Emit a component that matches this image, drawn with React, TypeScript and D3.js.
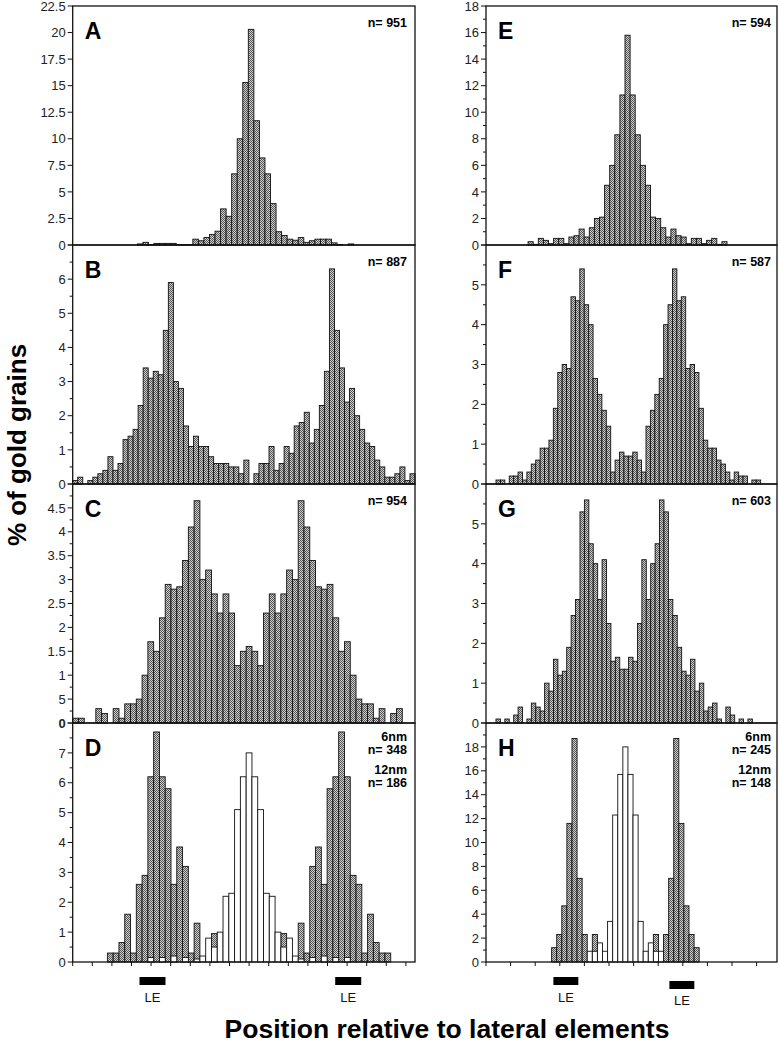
import React from "react";
import * as d3 from "d3";

const FONT = "'Liberation Sans', Arial, Helvetica, sans-serif";

// ---------------- data (% of gold grains per bin, left to right) ----------------
const valuesA = [0.1, 0.25, 0.05, 0.15, 0.15, 0.15, 0.15, 0.05, 0.05, 0.05, 0.55, 0.4, 0.7, 1.0, 1.3, 3.4, 2.7, 6.7, 10.0, 15.3, 20.3, 11.7, 8.2, 6.7, 3.9, 1.25, 0.9, 0.55, 0.45, 0.7, 0.25, 0.4, 0.55, 0.55, 0.55, 0.2, 0.05, 0, 0.1];

const valuesB = [0.1, 0.2, 0, 0.1, 0.2, 0.3, 0.4, 0.8, 0.4, 0.6, 1.3, 1.4, 1.6, 2.3, 3.4, 3.1, 3.3, 3.2, 4.5, 5.9, 3.0, 2.8, 1.7, 1.1, 1.4, 1.1, 1.1, 0.8, 0.6, 0.6, 0.6, 0.5, 0.5, 0.3, 0.7, 0, 0.3, 0.6, 0.6, 1.1, 0.4, 0.6, 1.1, 0.9, 1.7, 1.8, 2.1, 1.2, 1.6, 2.3, 3.3, 6.3, 4.5, 3.4, 2.4, 2.8, 2.0, 1.6, 1.2, 1.1, 0.7, 0.5, 0.2, 0.2, 0.3, 0.5, 0.1, 0.3];

const valuesC = [0.1, 0.1, 0, 0, 0.3, 0.2, 0, 0.3, 0.1, 0.4, 0.4, 0.5, 1.0, 1.7, 1.5, 2.2, 2.9, 2.8, 2.85, 3.4, 4.1, 4.65, 3.0, 3.2, 2.7, 2.3, 2.7, 2.3, 1.2, 1.5, 1.6, 1.5, 1.2, 2.3, 2.7, 2.3, 2.7, 3.2, 3.0, 4.65, 4.1, 3.4, 2.85, 2.8, 2.9, 2.2, 1.5, 1.7, 1.0, 0.5, 0.4, 0.4, 0.1, 0.3, 0, 0.2, 0.3];

const grayDStart = 6;
const grayD = [0.3, 0.3, 0.65, 1.6, 0.3, 2.6, 2.9, 6.2, 7.7, 6.2, 5.8, 2.6, 3.85, 3.2, 0.3, 1.3, 0, 0, 0.95, 0, 0, 0, 0, 0, 0, 0, 0, 0, 0, 0, 0.95, 0, 0, 1.3, 0.3, 3.2, 3.85, 2.6, 5.8, 6.2, 7.7, 6.2, 2.9, 2.6, 0.3, 1.6, 0.65, 0.3, 0.3];
const whiteDStart = 13;
const whiteD = [0.15, 0, 0.15, 0, 0.2, 0, 0.15, 0, 0.1, 0.2, 0.8, 0.5, 1.0, 2.2, 2.3, 5.1, 6.2, 7.0, 6.2, 5.1, 2.3, 2.2, 1.0, 0.5, 0.8, 0.2, 0.1, 0, 0.15, 0, 0.2, 0, 0.15, 0, 0.15];

const valuesE = [0.25, 0.05, 0.5, 0.35, 0.1, 0.5, 0.5, 0.1, 0.6, 0.7, 1.2, 0.6, 1.3, 2.0, 2.1, 4.5, 6.0, 8.3, 11.3, 15.8, 11.3, 8.3, 6.0, 4.5, 2.1, 2.0, 1.3, 0.6, 1.2, 0.7, 0.6, 0.1, 0.5, 0.5, 0.1, 0.35, 0.5, 0.05, 0.25];

const valuesF = [0.1, 0.1, 0, 0.2, 0.2, 0.3, 0.1, 0.3, 0.5, 0.6, 0.9, 0.9, 1.1, 1.9, 2.8, 3.0, 2.9, 4.7, 4.6, 5.4, 4.5, 4.0, 2.65, 2.25, 1.85, 1.45, 0.3, 0.6, 0.8, 0.7, 0.7, 0.8, 0.6, 0.3, 1.45, 1.85, 2.25, 2.65, 4.0, 4.5, 5.4, 4.6, 4.7, 2.9, 3.0, 2.8, 1.9, 1.1, 0.9, 0.9, 0.6, 0.5, 0.3, 0.1, 0.3, 0.2, 0.2, 0, 0.1, 0.1];

const valuesG = [0.1, 0, 0.1, 0, 0.2, 0.4, 0, 0.1, 0.5, 0.4, 0.3, 1.0, 0.8, 1.6, 1.2, 1.3, 1.9, 2.7, 3.1, 5.3, 5.6, 4.5, 4.0, 3.1, 4.1, 2.5, 1.55, 1.65, 1.35, 1.35, 1.65, 1.55, 2.5, 4.1, 3.1, 4.0, 4.5, 5.6, 5.3, 3.1, 2.7, 1.9, 1.3, 1.2, 1.6, 0.8, 1.0, 0.3, 0.4, 0.5, 0.1, 0, 0.4, 0.2, 0, 0.1, 0, 0.1];

const grayH = [1.2, 2.3, 4.7, 11.6, 18.7, 7.0, 2.3, 0, 2.3, 0, 0, 0, 0, 0, 0, 0, 0, 0, 0, 0, 2.3, 0, 2.3, 7.0, 18.7, 11.6, 4.7, 2.3, 1.2];
const whiteH = [0, 0, 0, 0, 0, 0, 0, 0.9, 0.9, 1.6, 0.9, 3.4, 12.3, 15.7, 18.0, 15.7, 12.3, 3.4, 0.9, 1.6, 0.9, 0.9, 0, 0, 0, 0, 0, 0, 0];

const countLabels = {
  A: ["n= 951"],
  B: ["n= 887"],
  C: ["n= 954"],
  D: ["6nm", "n= 348", "12nm", "n= 186"],
  E: ["n= 594"],
  F: ["n= 587"],
  G: ["n= 603"],
  H: ["6nm", "n= 245", "12nm", "n= 148"],
};

const yTitle = "% of gold grains";
const xTitle = "Position relative to lateral elements";
const leLabel = "LE";

// ---------------- layout ----------------
const COLS = [
  { x0: 72.7, x1: 415, tickStep: 19.6 },
  { x0: 486, x1: 777, tickStep: 24.6 },
];
const ROWS = [
  { y0: 6, y1: 245 },
  { y0: 245, y1: 484 },
  { y0: 484, y1: 723 },
  { y0: 723, y1: 962 },
];

type Panel = {
  letter: string;
  col: number;
  row: number;
  yMax: number;
  yMajor: number;
  yMinor: number | null;
  topLabel: boolean;
  xDomain: [number, number];
  gray: number[];
  grayStart: number;
  white?: number[];
  whiteStart?: number;
  fmt: (v: number) => string;
  boldZero?: boolean;
};

const fmtNum = (v: number) => String(+v.toFixed(2));
const fmtC = (v: number) => (Math.abs(v - 0.5) < 1e-9 ? "5" : fmtNum(v));

const panels: Panel[] = [
  { letter: "A", col: 0, row: 0, yMax: 22.5, yMajor: 2.5, yMinor: null, topLabel: true, xDomain: [-11.65, 50.04], gray: valuesA, grayStart: 0, fmt: fmtNum },
  { letter: "B", col: 0, row: 1, yMax: 7, yMajor: 1, yMinor: 0.5, topLabel: false, xDomain: [0, 68], gray: valuesB, grayStart: 0, fmt: fmtNum },
  { letter: "C", col: 0, row: 2, yMax: 5, yMajor: 0.5, yMinor: 0.25, topLabel: false, xDomain: [0, 59.2], gray: valuesC, grayStart: 0, fmt: fmtC, boldZero: true },
  { letter: "D", col: 0, row: 3, yMax: 8, yMajor: 1, yMinor: 0.5, topLabel: false, xDomain: [0, 59.2], gray: grayD, grayStart: grayDStart, white: whiteD, whiteStart: whiteDStart, fmt: fmtNum },
  { letter: "E", col: 1, row: 0, yMax: 18, yMajor: 2, yMinor: 1, topLabel: true, xDomain: [-8.25, 48.8], gray: valuesE, grayStart: 0, fmt: fmtNum },
  { letter: "F", col: 1, row: 1, yMax: 6, yMajor: 1, yMinor: 0.5, topLabel: false, xDomain: [-2.27, 63.7], gray: valuesF, grayStart: 0, fmt: fmtNum },
  { letter: "G", col: 1, row: 2, yMax: 6, yMajor: 1, yMinor: 0.5, topLabel: false, xDomain: [-2.26, 63.57], gray: valuesG, grayStart: 0, fmt: fmtNum },
  { letter: "H", col: 1, row: 3, yMax: 20, yMajor: 2, yMinor: 1, topLabel: false, xDomain: [-12.9, 44.3], gray: grayH, grayStart: 0, white: whiteH, whiteStart: 0, fmt: fmtNum },
];

// LE marker centers (in bin units of the bottom panel of each column)
const leMarks = [
  { col: 0, center: 13.8, width: 4.5, y: 977, textY: 1002 },
  { col: 0, center: 47.65, width: 4.5, y: 977, textY: 1002 },
  { col: 1, center: 2.8, width: 4.9, y: 977, textY: 1002 },
  { col: 1, center: 25.6, width: 4.9, y: 981, textY: 1005 },
];

function PanelView({ p }: { p: Panel }) {
  const col = COLS[p.col];
  const row = ROWS[p.row];
  const xs = d3.scaleLinear().domain(p.xDomain).range([col.x0, col.x1]);
  const ys = d3.scaleLinear().domain([0, p.yMax]).range([row.y1, row.y0]);
  const majors = d3.range(0, p.yMax + 1e-9, p.yMajor);
  const minors = p.yMinor
    ? d3.range(0, p.yMax + 1e-9, p.yMinor).filter((v) => Math.abs(v / p.yMajor - Math.round(v / p.yMajor)) > 1e-6)
    : [];
  const bar = (v: number, idx: number, fill: string, key: string) =>
    v > 0 ? (
      <rect
        key={key}
        x={xs(idx)}
        y={ys(v)}
        width={xs(idx + 1) - xs(idx)}
        height={ys(0) - ys(v)}
        fill={fill}
        stroke="#111"
        strokeWidth={0.9}
      />
    ) : null;
  const labels = countLabels[p.letter as keyof typeof countLabels];
  const twoSeries = labels.length > 2;
  const labelYs = twoSeries ? [18, 30.5, 51, 63.7] : [21];
  const rightPad = p.col === 0 ? 8 : 6;
  return (
    <g>
      {p.gray.map((v, i) => bar(v, p.grayStart + i, "url(#hatch)", "g" + i))}
      {p.white && p.white.map((v, i) => bar(v, (p.whiteStart || 0) + i, "#fff", "w" + i))}
      <rect x={col.x0} y={row.y0} width={col.x1 - col.x0} height={row.y1 - row.y0} fill="none" stroke="#111" strokeWidth={1.3} />
      {majors.map((v) => (
        <g key={"M" + v}>
          <line x1={col.x0 - 5} x2={col.x0} y1={ys(v)} y2={ys(v)} stroke="#111" strokeWidth={1} />
          {(v < p.yMax - 1e-9 || p.topLabel) && (
            <text
              x={col.x0 - 7}
              y={ys(v)}
              dy="0.36em"
              textAnchor="end"
              fontSize={13}
              fill="#222"
              fontWeight={p.boldZero && v === 0 ? "bold" : "normal"}
            >
              {p.fmt(v)}
            </text>
          )}
        </g>
      ))}
      {minors.map((v) => (
        <line key={"m" + v} x1={col.x0 - 3} x2={col.x0} y1={ys(v)} y2={ys(v)} stroke="#111" strokeWidth={1} />
      ))}
      <text x={col.x0 + 12} y={row.y0 + 33} fontSize={23} fontWeight="bold" fill="#000">
        {p.letter}
      </text>
      {labels.map((t, i) => (
        <text key={t + i} x={col.x1 - rightPad} y={row.y0 + labelYs[i]} textAnchor="end" fontSize={12.5} fontWeight="bold" fill="#000">
          {t}
        </text>
      ))}
    </g>
  );
}

export default function App() {
  const bottomPanels = [panels[3], panels[7]];
  return (
    <svg
      width={780}
      height={1043}
      viewBox="0 0 780 1043"
      style={{ position: "absolute", left: 0, top: 0, background: "#fff" }}
      fontFamily={FONT}
    >
      <defs>
        <pattern id="hatch" width="2" height="2" patternUnits="userSpaceOnUse">
          <rect width="2" height="2" fill="#cfcfcf" />
          <rect width="1" height="1" fill="#555" />
          <rect x="1" y="1" width="1" height="1" fill="#555" />
        </pattern>
      </defs>
      <rect width={780} height={1043} fill="#fff" />
      {panels.map((p) => (
        <PanelView key={p.letter} p={p} />
      ))}
      {/* bottom x ticks */}
      {COLS.map((c, ci) => {
        const tickScale = d3.scaleLinear().domain([0, (c.x1 - c.x0) / c.tickStep]).range([c.x0, c.x1]);
        const ticks = d3.range(0, (c.x1 - c.x0) / c.tickStep, 1);
        return (
          <g key={"xt" + ci}>
            {ticks.map((t) => (
              <line key={t} x1={tickScale(t)} x2={tickScale(t)} y1={962} y2={966} stroke="#111" strokeWidth={1} />
            ))}
          </g>
        );
      })}
      {/* LE markers */}
      {leMarks.map((m, i) => {
        const p = bottomPanels[m.col];
        const col = COLS[m.col];
        const xs = d3.scaleLinear().domain(p.xDomain).range([col.x0, col.x1]);
        const x0 = xs(m.center - m.width / 2);
        const x1 = xs(m.center + m.width / 2);
        return (
          <g key={"le" + i}>
            <rect x={x0} y={m.y} width={x1 - x0} height={8} fill="#000" />
            <text x={(x0 + x1) / 2} y={m.textY} textAnchor="middle" fontSize={13} fill="#111">
              {leLabel}
            </text>
          </g>
        );
      })}
      <text
        transform="translate(26,445) rotate(-90)"
        textAnchor="middle"
        fontSize={26}
        fontWeight="bold"
        fill="#000"
      >
        {yTitle}
      </text>
      <text x={447} y={1038} textAnchor="middle" fontSize={26.5} fontWeight="bold" fill="#000">
        {xTitle}
      </text>
    </svg>
  );
}
